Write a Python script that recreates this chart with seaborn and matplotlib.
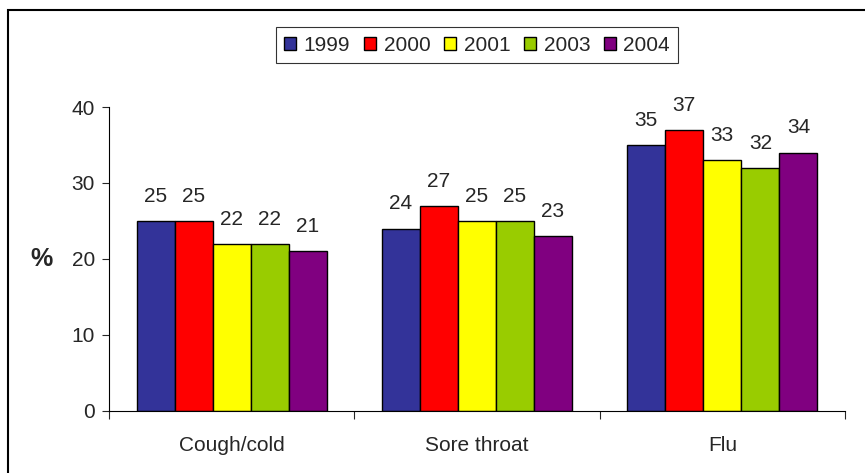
import matplotlib
matplotlib.use("Agg")
import matplotlib.pyplot as plt
import seaborn as sns
import pandas as pd
from matplotlib.patches import Rectangle
from matplotlib.ticker import FixedLocator

categories = ["Cough/cold", "Sore throat", "Flu"]
years = ["1999", "2000", "2001", "2003", "2004"]
values_1999 = [25, 24, 35]
values_2000 = [25, 27, 37]
values_2001 = [22, 25, 33]
values_2003 = [22, 25, 32]
values_2004 = [21, 23, 34]
series = [values_1999, values_2000, values_2001, values_2003, values_2004]
colors = ["#333399", "#FF0000", "#FFFF00", "#99CC00", "#800080"]

rows = []
for y, vals in zip(years, series):
    for c, v in zip(categories, vals):
        rows.append({"Category": c, "Year": y, "Value": v})
df = pd.DataFrame(rows)

sns.set_style("white")
plt.rcParams["font.family"] = ["Liberation Sans", "DejaVu Sans"]

FS = 15
fig = plt.figure(figsize=(8.65, 4.73), dpi=100)
ax = fig.add_axes([109/865, 1-411/473, (845-109)/865, (411-107)/473])

sns.barplot(data=df, x="Category", y="Value", hue="Year", palette=colors,
            saturation=1, width=0.775, edgecolor="black", linewidth=1.0, ax=ax, legend=True)

for cont in ax.containers:
    ax.bar_label(cont, fmt="%d", padding=11, fontsize=FS)

ax.set_ylim(0, 40)
ax.set_xlim(-0.5, 2.5)
ax.set_yticks([0, 10, 20, 30, 40])
ax.tick_params(axis="y", labelsize=FS, length=5, width=0.8, direction="out", left=True, pad=5)
ax.tick_params(axis="x", labelsize=FS, length=0, pad=18)
ax.xaxis.set_minor_locator(FixedLocator([-0.5, 0.5, 1.5, 2.5]))
ax.tick_params(axis="x", which="minor", length=6, width=0.8, direction="out", bottom=True)
ax.set_xlabel("")
ax.set_ylabel("%", fontsize=18, fontweight="bold", rotation=0, labelpad=22, va="center")
for s in ["top", "right"]:
    ax.spines[s].set_visible(False)
for s in ["left", "bottom"]:
    ax.spines[s].set_color("black")
    ax.spines[s].set_linewidth(0.8)
ax.grid(False)

handles, labels = ax.get_legend_handles_labels()
leg = ax.legend(handles, labels, loc="center", ncol=5, fontsize=FS, frameon=True,
                fancybox=False, edgecolor="black",
                handlelength=0.6, handleheight=0.6, handletextpad=0.35, columnspacing=0.65,
                borderpad=0.4)
leg.set_bbox_to_anchor((0.5, (411 - 45) / 304), transform=ax.transAxes)
leg.get_frame().set_linewidth(0.8)

fig.patches.append(Rectangle((8/865, -0.1), 1.2, 1 - 10/473 + 0.1, transform=fig.transFigure,
                             fill=False, edgecolor="black", linewidth=1.5, figure=fig))

fig.savefig("out.png", dpi=100)
